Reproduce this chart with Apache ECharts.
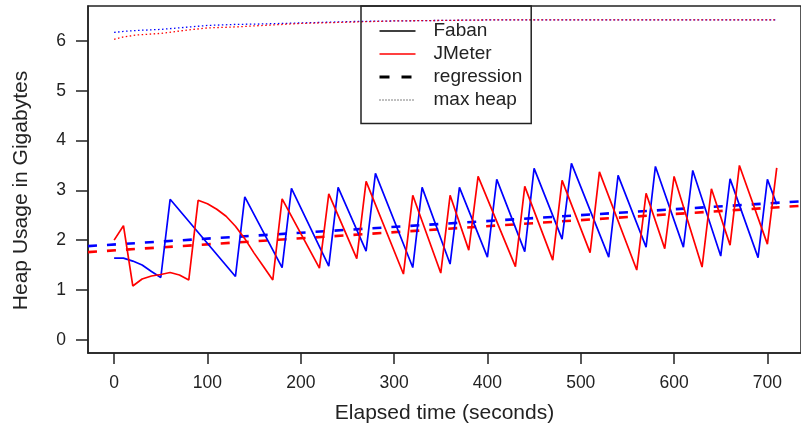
<!DOCTYPE html>
<html>
<head>
<meta charset="utf-8">
<script src="https://cdn.jsdelivr.net/npm/echarts@6/dist/echarts.min.js"></script>
<style>
  html, body { margin: 0; padding: 0; background: #fff; }
  #chart { width: 801px; height: 429px; }
</style>
</head>
<body>
<div id="chart"></div>
<script>
var xTicks = [0, 100, 200, 300, 400, 500, 600, 700];
var yTicks = [0, 1, 2, 3, 4, 5, 6];

// Faban heap usage (seconds, GB)
var fabanTime = [0, 10, 20, 30, 40, 50, 60, 130, 140, 180, 190, 230, 240, 270, 280, 320, 330, 360, 370, 400, 410, 440, 450, 480, 490, 530, 540, 570, 580, 610, 620, 650, 660, 690, 700, 710];
var fabanHeap = [1.64, 1.64, 1.58, 1.50, 1.37, 1.25, 2.82, 1.27, 2.87, 1.45, 3.04, 1.48, 3.06, 1.78, 3.34, 1.45, 3.06, 1.52, 3.06, 1.66, 3.22, 1.77, 3.44, 2.02, 3.54, 1.66, 3.30, 1.86, 3.48, 1.86, 3.40, 1.68, 3.23, 1.65, 3.22, 2.72];

// JMeter heap usage
var jmeterTime = [0, 10, 20, 30, 40, 50, 60, 70, 80, 90, 100, 110, 120, 130, 140, 150, 160, 170, 180, 220, 230, 260, 270, 310, 320, 350, 360, 380, 390, 430, 440, 470, 480, 510, 520, 560, 570, 590, 600, 630, 640, 660, 670, 700, 710];
var jmeterHeap = [2.00, 2.29, 1.08, 1.22, 1.28, 1.31, 1.35, 1.30, 1.20, 2.80, 2.73, 2.62, 2.48, 2.28, 2.03, 1.74, 1.47, 1.20, 2.83, 1.44, 2.93, 1.63, 3.18, 1.32, 2.90, 1.34, 2.90, 1.80, 3.28, 1.47, 3.08, 1.60, 3.20, 1.75, 3.37, 1.40, 2.94, 1.83, 3.28, 1.46, 3.03, 1.90, 3.50, 1.92, 3.45];

// regression lines, end points at the plot edges
var regTime = [-28, 736];
var fabanReg = [1.88, 2.78];
var jmeterReg = [1.76, 2.69];

// max heap
var maxTime = [0, 10, 25, 50, 75, 100, 130, 160, 200, 260, 300, 400, 710];
var fabanMax = [6.17, 6.19, 6.21, 6.23, 6.27, 6.31, 6.33, 6.34, 6.36, 6.39, 6.40, 6.42, 6.42];
var jmeterMax = [6.03, 6.08, 6.12, 6.15, 6.21, 6.26, 6.28, 6.31, 6.35, 6.38, 6.40, 6.42, 6.42];

var BLUE = '#0000ff';
var RED = '#ff0000';
var INK = '#222';
var font = '"Liberation Sans", Arial, Helvetica, sans-serif';
var DASH = [9, 10];
var DOT = [1.5, 2.5];

function pairs(t, v) {
  return t.map(function (x, i) { return [x, v[i]]; });
}

function lineSeries(name, t, v, color, width, type, z) {
  return {
    name: name,
    type: 'line',
    data: pairs(t, v),
    symbol: 'none',
    color: color,
    lineStyle: {color: color, width: width, type: type},
    silent: true,
    z: z
  };
}

// legend entries: line only, no marker
function legendItem(name, color, width, type) {
  return {
    name: name,
    itemStyle: {color: 'rgba(0,0,0,0)', borderColor: 'rgba(0,0,0,0)', borderWidth: 0},
    lineStyle: {color: color, width: width, type: type}
  };
}

var chart = echarts.init(document.getElementById('chart'));

var option = {
  animation: false,
  backgroundColor: '#fff',
  textStyle: {fontFamily: font},
  grid: {
    left: 88, top: 6, right: -2, bottom: 75,
    show: true, borderColor: INK, borderWidth: 1.5
  },
  legend: {
    left: 361, top: 6,
    orient: 'vertical',
    selectedMode: false,
    padding: [15.5, 9, 14, 17],
    itemWidth: 36, itemHeight: 14, itemGap: 4,
    borderColor: INK, borderWidth: 1.5,
    backgroundColor: 'transparent',
    textStyle: {fontSize: 19, color: INK, padding: [0, 0, 0, 13]},
    data: [
      legendItem('Faban', '#000', 1.3, 'solid'),
      legendItem('JMeter', RED, 1.3, 'solid'),
      legendItem('regression', '#000', 3, [10, 12]),
      legendItem('max heap', '#000', 1, [1, 2])
    ]
  },
  xAxis: {
    type: 'value', min: -28, max: 736,
    name: 'Elapsed time (seconds)', nameLocation: 'middle', nameGap: 50,
    nameTextStyle: {fontSize: 21, color: INK},
    axisLine: {show: true, onZero: false, lineStyle: {color: INK, width: 1.5}},
    axisTick: {show: true, length: 11, customValues: xTicks, lineStyle: {color: INK, width: 1.5}},
    axisLabel: {customValues: xTicks, margin: 21, fontSize: 17.5, color: INK},
    splitLine: {show: false}
  },
  yAxis: {
    type: 'value', min: -0.265, max: 6.70,
    name: 'Heap Usage in Gigabytes', nameLocation: 'middle', nameGap: 56,
    nameTextStyle: {fontSize: 21, color: INK, padding: [0, 22, 0, 0]},
    axisLine: {show: true, onZero: false, lineStyle: {color: INK, width: 1.5}},
    axisTick: {show: true, length: 12, customValues: yTicks, lineStyle: {color: INK, width: 1.5}},
    axisLabel: {customValues: yTicks, margin: 22, fontSize: 17.5, color: INK},
    splitLine: {show: false}
  },
  series: [
    lineSeries('max heap', maxTime, fabanMax, BLUE, 1.3, DOT, 1),
    lineSeries('max heap', maxTime, jmeterMax, RED, 1.3, DOT, 1),
    lineSeries('regression', regTime, fabanReg, BLUE, 2.6, DASH, 2),
    lineSeries('regression', regTime, jmeterReg, RED, 2.6, DASH, 2),
    lineSeries('Faban', fabanTime, fabanHeap, BLUE, 1.7, 'solid', 3),
    lineSeries('JMeter', jmeterTime, jmeterHeap, RED, 1.7, 'solid', 3)
  ]
};

chart.setOption(option);
</script>
</body>
</html>
